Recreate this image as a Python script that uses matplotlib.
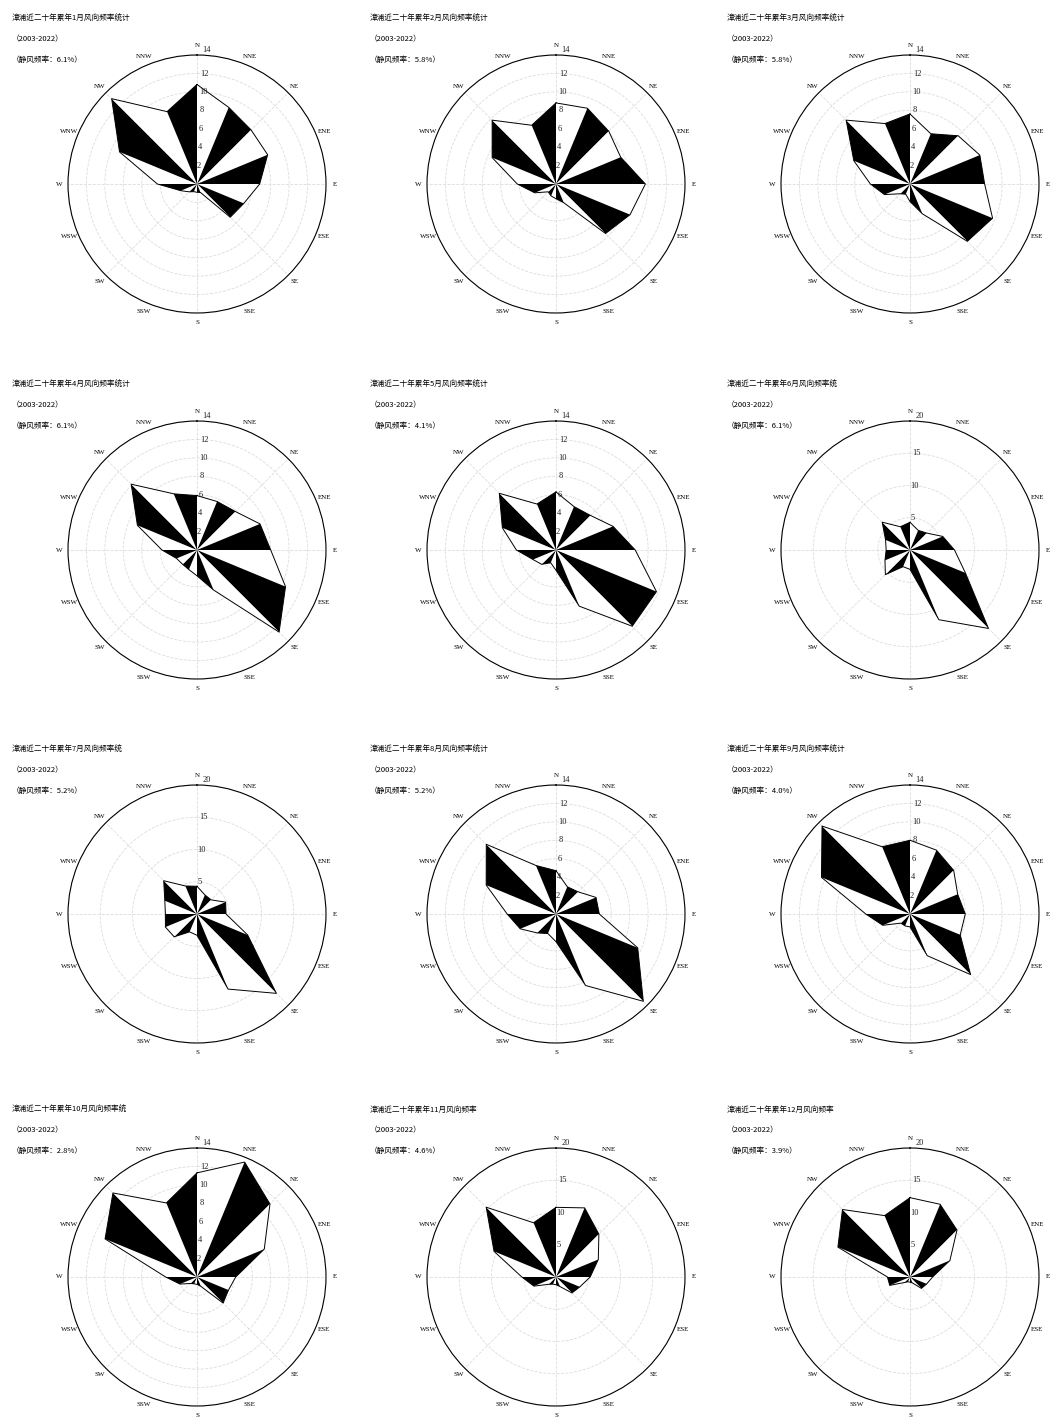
import numpy as np
import matplotlib
matplotlib.use('Agg')
import matplotlib.pyplot as plt

plt.rcParams['font.family'] = ['Noto Sans CJK SC', 'DejaVu Sans']

# 16个风向
dirs = ['N', 'NNE', 'NE', 'ENE', 'E', 'ESE', 'SE', 'SSE',
        'S', 'SSW', 'SW', 'WSW', 'W', 'WNW', 'NW', 'NNW']

# 各月风向频率(%)，按 dirs 顺序
jan_freq = [10.8, 9.0, 8.3, 8.3, 6.8, 5.5, 5.1, 1.0, 0.9, 0.9, 1.2, 1.9, 4.3, 9.1, 13.1, 8.5]
feb_freq = [8.8, 8.9, 8.1, 7.6, 9.7, 8.7, 7.6, 2.2, 1.6, 1.4, 1.2, 2.5, 4.2, 7.5, 9.8, 6.9]
mar_freq = [7.6, 5.9, 7.4, 8.2, 8.1, 9.7, 8.8, 3.5, 1.9, 1.2, 1.5, 3.0, 4.3, 6.6, 9.8, 7.1]
apr_freq = [5.9, 5.7, 5.9, 7.4, 8.0, 10.4, 12.6, 4.7, 2.8, 2.3, 2.2, 2.4, 3.8, 7.0, 10.1, 6.6]
may_freq = [6.3, 5.1, 5.3, 6.7, 8.6, 11.8, 11.7, 6.6, 2.2, 1.5, 2.2, 2.7, 4.3, 6.3, 8.7, 5.4]
jun_freq = [4.3, 3.3, 3.7, 5.5, 6.9, 9.3, 17.2, 11.7, 3.0, 2.8, 5.4, 4.2, 3.7, 4.1, 6.1, 3.9]
jul_freq = [4.3, 3.2, 3.1, 4.8, 4.5, 8.5, 17.4, 12.6, 3.3, 3.0, 5.0, 5.3, 4.9, 5.4, 7.3, 4.7]
aug_freq = [4.7, 3.2, 3.4, 4.7, 4.7, 9.6, 13.4, 8.4, 3.0, 2.3, 2.9, 4.2, 5.3, 8.2, 10.7, 5.7]
sep_freq = [8.0, 7.5, 6.7, 5.6, 6.0, 5.9, 9.3, 4.9, 1.4, 1.4, 1.4, 3.2, 4.8, 10.4, 13.5, 7.9]
oct_freq = [11.3, 13.5, 11.2, 7.9, 4.2, 3.7, 4.0, 1.1, 0.8, 0.8, 1.0, 2.0, 3.4, 10.8, 12.9, 8.7]
nov_freq = [10.8, 11.6, 9.4, 7.1, 5.3, 4.0, 3.5, 1.6, 1.2, 1.2, 1.6, 3.7, 5.3, 10.4, 15.3, 9.1]
dec_freq = [12.3, 12.2, 10.3, 6.7, 3.5, 2.8, 2.5, 1.0, 0.8, 0.8, 1.2, 3.4, 3.5, 12.1, 14.8, 10.3]

# 静风频率
calm = ['6.1', '5.8', '5.8', '6.1', '4.1', '6.1', '5.2', '5.2', '4.0', '2.8', '4.6', '3.9']
# 径向最大刻度
rmax = [14, 14, 14, 14, 14, 20, 20, 14, 14, 14, 20, 20]
# 标题结尾（原图部分被截断）
title_end = ['统计', '统计', '统计', '统计', '统计', '统', '统', '统计', '统计', '统', '', '']

months = [jan_freq, feb_freq, mar_freq, apr_freq, may_freq, jun_freq,
          jul_freq, aug_freq, sep_freq, oct_freq, nov_freq, dec_freq]

W, H = 1054, 1423
fig = plt.figure(figsize=(W / 100, H / 100), dpi=100)

col_cx = [197, 556, 910]
row_cy = [184, 550, 914, 1277]
col_tx = [12, 370, 727]
row_ty = [19, 385, 750, 1110]
R = 129

theta = np.deg2rad(np.arange(16) * 22.5)

for k, vals in enumerate(months):
    r, c = divmod(k, 3)
    cx, cy = col_cx[c], row_cy[r]
    ax = fig.add_axes([(cx - R) / W, 1 - (cy + R) / H, 2 * R / W, 2 * R / H],
                      projection='polar')
    ax.set_theta_zero_location('N')
    ax.set_theta_direction(-1)
    ax.set_ylim(0, rmax[k])

    v = np.array(vals)
    # 交替黑白三角形
    for i in range(16):
        j = (i + 1) % 16
        color = 'black' if i % 2 == 1 else 'white'
        ax.fill([0, theta[i], theta[j]], [0, v[i], v[j]], color=color,
                edgecolor='none', zorder=3)
    ax.plot(np.append(theta, theta[0]), np.append(v, v[0]), color='black',
            lw=0.7, zorder=4)

    # 网格
    ax.xaxis.grid(False)
    ax.yaxis.grid(True, color='#dddddd', lw=0.6, ls='--')
    for a in theta[::2]:
        ax.plot([a, a], [0, rmax[k]], color='#dddddd', lw=0.6, ls='--', zorder=1)

    ax.set_xticks(theta)
    ax.set_xticklabels(dirs, fontsize=5, family='Liberation Serif')
    ax.tick_params(axis='x', pad=-4)
    step = 2 if rmax[k] == 14 else 5
    ticks = np.arange(step, rmax[k] + 1, step)
    ax.set_yticks(ticks)
    ax.set_yticklabels([])
    for t in ticks:
        rr = t * 1.04 if t == rmax[k] else t
        ax.text(np.deg2rad(4), rr, str(t), fontsize=6, family='Liberation Serif',
                color='#222222', ha='center', va='center', zorder=6)
    ax.spines['polar'].set_linewidth(0.8)

    tx, ty = col_tx[c], row_ty[r]
    fig.text(tx / W, 1 - ty / H, f'漳浦近二十年累年{k + 1}月风向频率{title_end[k]}',
             fontsize=5.5, va='center', ha='left')
    fig.text(tx / W, 1 - (ty + 20) / H, '（2003-2022）', fontsize=5.5,
             va='center', ha='left')
    fig.text(tx / W, 1 - (ty + 41) / H, f'（静风频率：{calm[k]}%）', fontsize=5.5,
             va='center', ha='left')

fig.savefig('out.png', dpi=100, facecolor='white')
